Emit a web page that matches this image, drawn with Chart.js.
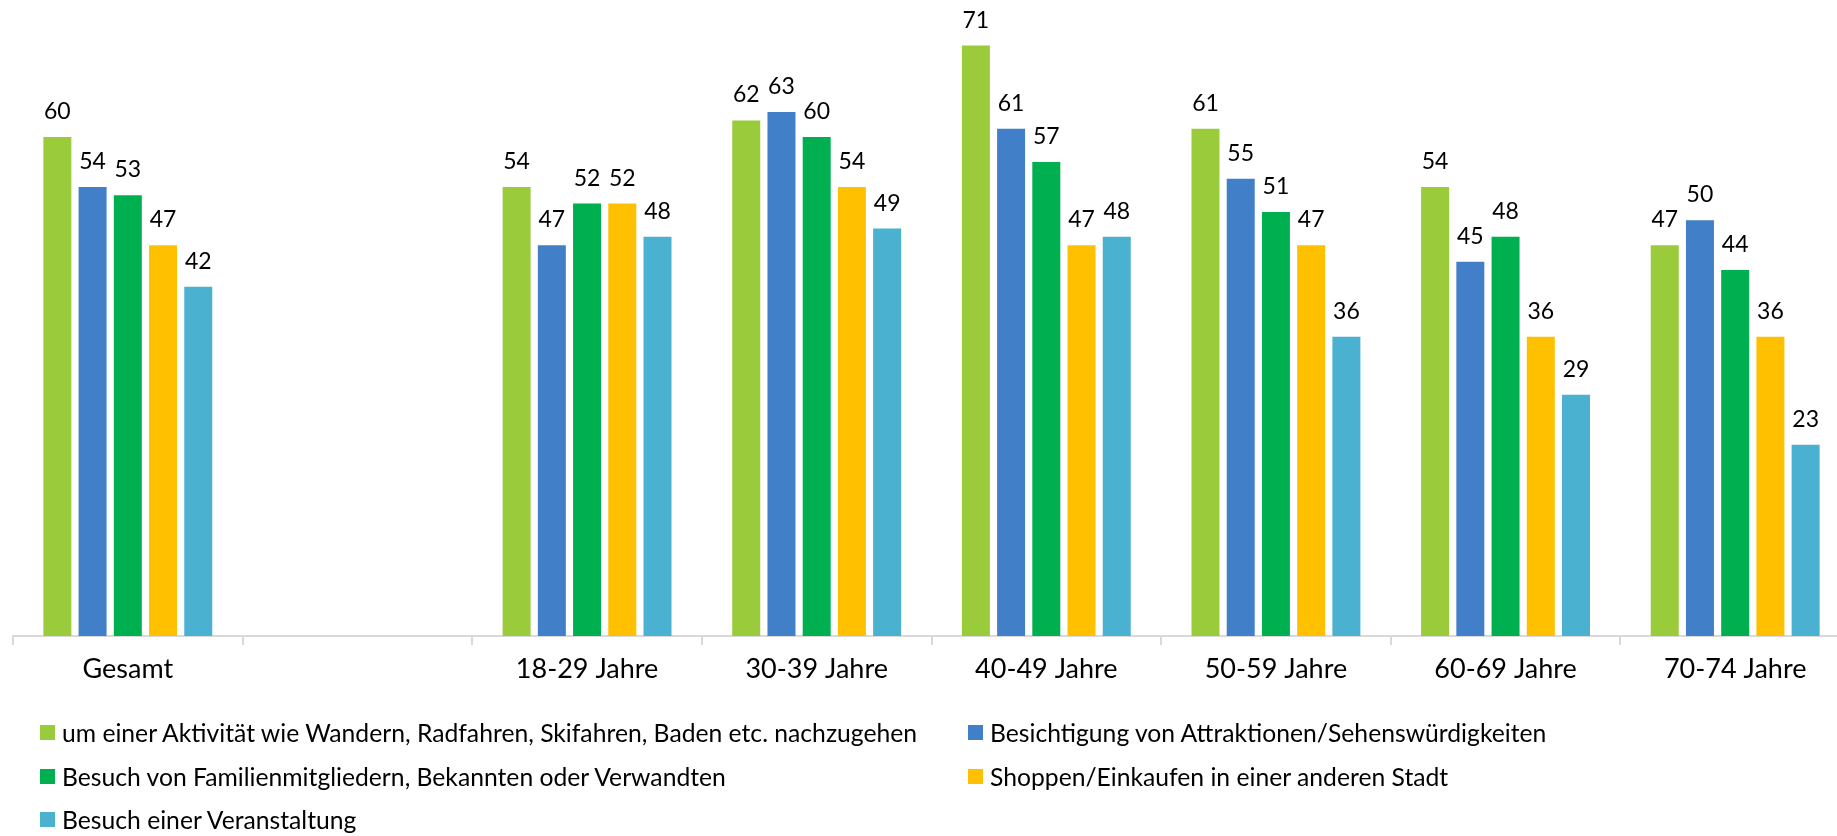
<!DOCTYPE html>
<html lang="de">
<head>
<meta charset="utf-8">
<script src="https://cdn.jsdelivr.net/npm/chart.js@4.4.1/dist/chart.umd.min.js"></script>
<style>
  html, body { margin: 0; padding: 0; background: #fff; overflow: hidden; }
  #wrap { position: relative; width: 1850px; height: 836px; }
  #legend {
    position: absolute; left: 40px; top: 711px;
    display: grid; grid-template-columns: 928px auto; grid-auto-rows: 43.4px;
    font-family: Lato, sans-serif; font-size: 24.7px; color: #000;
  }
  #legend .item { display: flex; align-items: center; white-space: nowrap; }
  #legend .box { width: 15px; height: 15px; margin-right: 7px; flex: none; }
</style>
</head>
<body>
<div id="wrap">
  <canvas id="chart" width="1850" height="836"></canvas>
  <div id="legend"></div>
</div>
<script>
const categories = ['Gesamt', '', '18-29 Jahre', '30-39 Jahre', '40-49 Jahre', '50-59 Jahre', '60-69 Jahre', '70-74 Jahre'];
const seriesNames = [
  'um einer Aktivität wie Wandern, Radfahren, Skifahren, Baden etc. nachzugehen',
  'Besichtigung von Attraktionen/Sehenswürdigkeiten',
  'Besuch von Familienmitgliedern, Bekannten oder Verwandten',
  'Shoppen/Einkaufen in einer anderen Stadt',
  'Besuch einer Veranstaltung'
];
const aktivitaet    = [60, null, 54, 62, 71, 61, 54, 47];
const besichtigung  = [54, null, 47, 63, 61, 55, 45, 50];
const familie       = [53, null, 52, 60, 57, 51, 48, 44];
const shoppen       = [47, null, 52, 54, 47, 47, 36, 36];
const veranstaltung = [42, null, 48, 49, 48, 36, 29, 23];
const colors = ['#9ACB3A', '#417FC9', '#00B050', '#FFC000', '#4BB1D0'];

// value labels above each bar
const valueLabels = {
  id: 'valueLabels',
  afterDatasetsDraw(chart) {
    const ctx = chart.ctx;
    ctx.save();
    ctx.font = '23px Lato';
    ctx.fillStyle = '#000';
    ctx.textAlign = 'center';
    ctx.textBaseline = 'alphabetic';
    chart.data.datasets.forEach((ds, i) => {
      chart.getDatasetMeta(i).data.forEach((bar, j) => {
        if (ds.data[j] == null) return;
        ctx.fillText(ds.data[j], bar.x, bar.y - 18);
      });
    });
    ctx.restore();
  }
};

function draw() {
  const values = [aktivitaet, besichtigung, familie, shoppen, veranstaltung];
  const chart = new Chart(document.getElementById('chart'), {
    type: 'bar',
    data: {
      labels: categories,
      datasets: values.map((v, i) => ({
        label: seriesNames[i],
        data: v,
        backgroundColor: colors[i],
        categoryPercentage: 0.767,
        barPercentage: 0.795
      }))
    },
    options: {
      responsive: false,
      animation: false,
      layout: { padding: { left: 13, right: 0, top: 4, bottom: 140 } },
      plugins: { legend: { display: false }, tooltip: { enabled: false } },
      scales: {
        x: {
          offset: true,
          grid: { display: true, offset: true, drawOnChartArea: false, drawTicks: true, tickLength: 9, color: '#d9d9d9', lineWidth: 2 },
          border: { display: true, color: '#d9d9d9', width: 2 },
          ticks: { color: '#000', font: { family: 'Lato', size: 27 }, padding: 8, maxRotation: 0, autoSkip: false },
          afterFit: s => { s.height = 60; }
        },
        y: { display: false, min: 0, max: 76 }
      }
    },
    plugins: [valueLabels]
  });

  // legend in two columns, built from the datasets
  const legend = document.getElementById('legend');
  chart.data.datasets.forEach(ds => {
    const item = document.createElement('div');
    item.className = 'item';
    item.innerHTML = '<span class="box" style="background:' + ds.backgroundColor + '"></span>' + ds.label;
    legend.appendChild(item);
  });
}

document.fonts.load('27px Lato').then(draw, draw);
</script>
</body>
</html>
